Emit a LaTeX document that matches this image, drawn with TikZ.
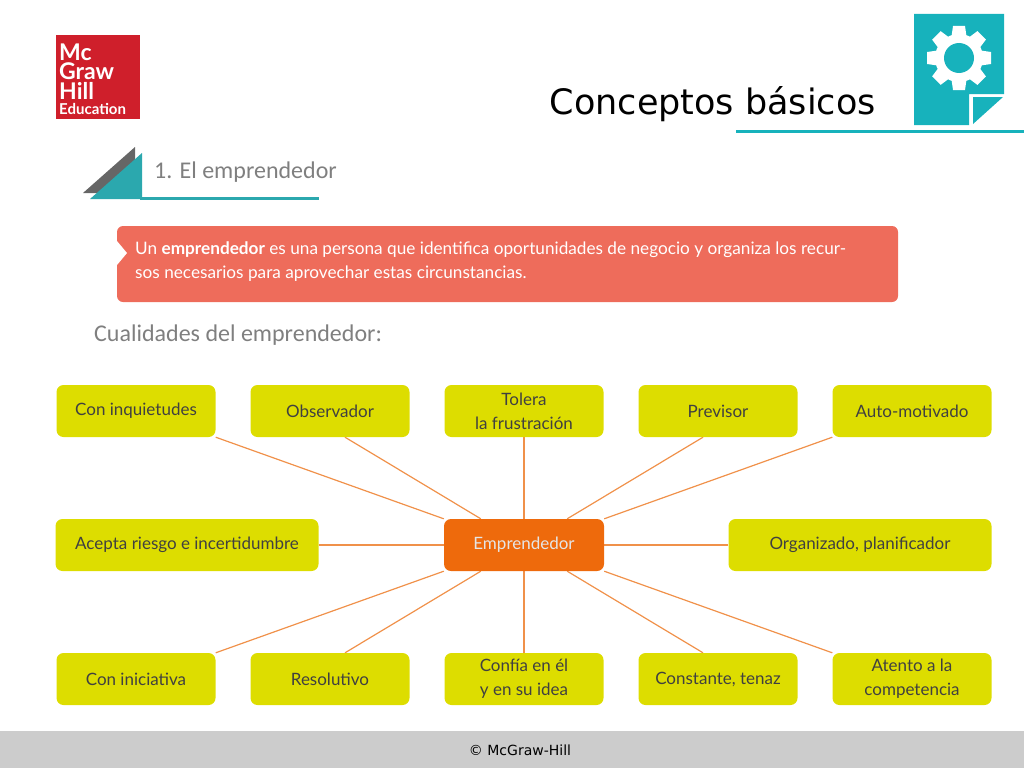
\documentclass[tikz,border=0pt]{standalone}
\usepackage{fontspec}
\setmainfont{Lato}
\newfontfamily\titlefont{DejaVu Sans}
\newfontfamily\headfont{Carlito}
\usetikzlibrary{backgrounds,calc}
\definecolor{teal1}{HTML}{17B2BC}
\definecolor{teal2}{HTML}{2BA8AE}
\definecolor{lime1}{HTML}{DDDD00}
\definecolor{hubor}{HTML}{EE6A0C}
\definecolor{linkor}{HTML}{F0914A}
\definecolor{salmon1}{HTML}{EE6C5B}
\definecolor{greytxt}{HTML}{7F7F7F}
\definecolor{redlogo}{HTML}{CF1F2B}
\tikzset{
	qualbox/.style={rectangle,rounded corners=7pt,fill=lime1,text=black!75,font=\fontsize{17}{24}\selectfont,align=center,minimum height=52pt,inner sep=0pt},
	small/.style={qualbox,minimum width=159pt},
	link/.style={draw=linkor,line width=1.2pt},
	logotxt/.style={text=white,anchor=west,inner sep=0pt,font=\bfseries},
}
\begin{document}
\begin{tikzpicture}[x=1pt,y=-1pt]
	\useasboundingbox (0,0) rectangle (1024,768);
	% footer
	\fill[black!20] (0,731) rectangle (1024,768);
	\node (foot) at (520,750) {\titlefont\fontsize{14}{16}\selectfont © McGraw-Hill};
	% logo
	\fill[redlogo] (56,35) rectangle (140,119);
	\node[logotxt,font=\bfseries\fontsize{23}{23}\selectfont] (mc) at (59,52) {Mc};
	\node[logotxt,font=\bfseries\fontsize{23}{23}\selectfont] (graw) at (59,71) {Graw};
	\node[logotxt,font=\bfseries\fontsize{23}{23}\selectfont] (hill) at (59,91) {Hill};
	\node[logotxt,font=\bfseries\fontsize{15}{15}\selectfont] (edu) at (59,109) {Education};
	% title
	\node[anchor=east,inner sep=0pt] (title) at (876,104) {\titlefont\fontsize{35}{40}\selectfont Conceptos básicos};
	\draw[teal1,line width=3pt] (736,131) -- (1024,131);
	\fill[teal1] (914,14) -- (1004,14) -- (1004,94) -- (969,94) -- (969,125) -- (914,125) -- cycle;
	\fill[teal1] (973,124) -- (973,97) -- (1003,97) -- cycle;
	% gear
	\fill[white] (959,58) circle (24pt);
	\foreach \a in {0,45,...,315}
		\fill[white,rotate around={\a:(959,58)}] (953,26) -- (965,26) -- (967,40) -- (951,40) -- cycle;
	\fill[teal1] (959,58) circle (15pt);
	% section head
	\fill[black!60] (83,193) -- (135,147) -- (135,193) -- cycle;
	\fill[teal2] (90,199) -- (142,153) -- (142,199) -- cycle;
	\draw[teal2,line width=3pt] (140,198) -- (319,198);
	\node[anchor=west,inner sep=0pt,text=greytxt] (head) at (154,172) {\headfont\fontsize{24}{28}\selectfont 1. El emprendedor};
	% definition
	\fill[salmon1,rounded corners=6pt] (117,226) rectangle (898,302);
	\fill[white] (117,241) -- (127,253) -- (117,265) -- cycle;
	\node[anchor=north west,inner sep=0pt,text=white,align=left,font=\fontsize{17.2}{23.5}\selectfont] (defn) at (135,242)
		{Un \textbf{emprendedor} es una persona que identifica oportunidades de negocio y organiza los recur-\\sos necesarios para aprovechar estas circunstancias.};
	\node[anchor=west,inner sep=0pt,text=greytxt] (cual) at (94,335) {\headfont\fontsize{24}{28}\selectfont Cualidades del emprendedor:};
	% map
	\node[qualbox,minimum width=160pt,fill=hubor,text=white!90!black] (hub) at (524,545) {Emprendedor};
	\node[small] (inq) at (136,411) {Con inquietudes};
	\node[small] (obs) at (330,411) {Observador};
	\node[small] (tol) at (524,411) {Tolera\\la frustración};
	\node[small] (pre) at (718,411) {Previsor};
	\node[small] (aut) at (912,411) {Auto-motivado};
	\node[qualbox,minimum width=263pt] (ace) at (187,545) {Acepta riesgo e incertidumbre};
	\node[qualbox,minimum width=263pt] (org) at (860,545) {Organizado, planificador};
	\node[small] (ini) at (136,679) {Con iniciativa};
	\node[small] (res) at (330,679) {Resolutivo};
	\node[small] (con) at (524,679) {Confía en él\\y en su idea};
	\node[small] (cte) at (718,679) {Constante, tenaz};
	\node[small] (ate) at (912,679) {Atento a la\\competencia};
	\begin{scope}[on background layer]
		\draw[link] (inq.south east) -- (hub.north west);
		\draw[link] (obs.south) ++(15,0) -- ($(hub.north west)+(37,0)$);
		\draw[link] (tol) -- (hub);
		\draw[link] (pre.south) ++(-15,0) -- ($(hub.north east)+(-37,0)$);
		\draw[link] (aut.south west) -- (hub.north east);
		\draw[link] (ace) -- (hub);
		\draw[link] (org) -- (hub);
		\draw[link] (ini.north east) -- (hub.south west);
		\draw[link] (res.north) ++(15,0) -- ($(hub.south west)+(37,0)$);
		\draw[link] (con) -- (hub);
		\draw[link] (cte.north) ++(-15,0) -- ($(hub.south east)+(-37,0)$);
		\draw[link] (ate.north west) -- (hub.south east);
	\end{scope}
\end{tikzpicture}
\end{document}
